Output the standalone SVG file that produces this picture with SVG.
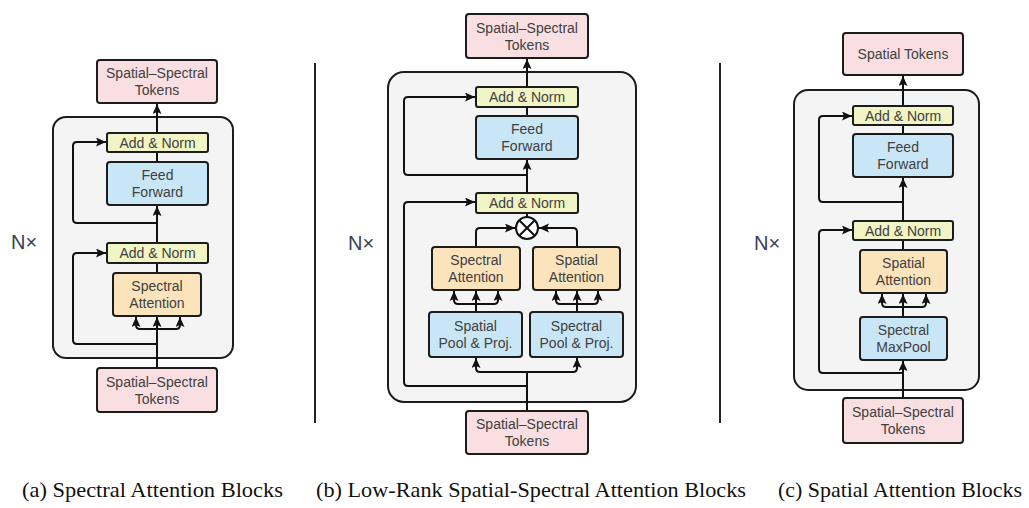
<svg xmlns="http://www.w3.org/2000/svg" width="1029" height="508" viewBox="0 0 1029 508">
<defs>
<marker id="ah" markerUnits="userSpaceOnUse" markerWidth="11" markerHeight="10" refX="10" refY="4.5" orient="auto">
<path d="M0,0 L10,4.5 L0,9 L2,4.5 z" fill="#111"/>
</marker>
<style>
.box{stroke:#1c1c1c;stroke-width:2}
.tok{fill:#f9dfe1}
.an{fill:#f1f4c5}
.ff{fill:#c9e6f6}
.at{fill:#fbe3bc}
.cont{fill:#f4f4f4;stroke:#1c1c1c;stroke-width:2}
.lb{font-family:"Liberation Sans",Arial,sans-serif;font-size:14px;fill:#404040;text-anchor:middle}
.nx{font-family:"Liberation Sans",Arial,sans-serif;font-size:20px;fill:#3a3d55}
.cap{font-family:"Liberation Serif","Times New Roman",serif;font-size:21px;fill:#111}
.ln{fill:none;stroke:#111;stroke-width:2;stroke-linejoin:round}
.ar{fill:none;stroke:#111;stroke-width:2;stroke-linejoin:round;marker-end:url(#ah)}
.sep{stroke:#222;stroke-width:2}
</style>
</defs>
<rect width="1029" height="508" fill="#ffffff"/>

<!-- containers -->
<g id="container-a"><rect class="cont" x="53" y="117" width="180" height="241" rx="13"/></g>
<g id="container-b"><rect class="cont" x="388" y="72" width="248" height="330" rx="16"/></g>
<g id="container-c"><rect class="cont" x="794" y="90" width="185" height="300" rx="14"/></g>

<g id="separators">
<line class="sep" x1="315" y1="63" x2="315" y2="423"/>
<line class="sep" x1="720" y1="63" x2="720" y2="423"/>
</g>

<!-- connectors -->
<g id="connectors">
<!-- panel a -->
<path class="ar" d="M157,368 V317"/>
<path class="ar" d="M157,329 H140 Q136,329 136,325 V317"/>
<path class="ar" d="M157,329 H176 Q180,329 180,325 V317"/>
<path class="ar" d="M157,344 H77 Q73,344 73,340 V257 Q73,253 77,253 H106"/>
<path class="ln" d="M157,273 V263"/>
<path class="ar" d="M157,243 V206"/>
<path class="ar" d="M157,223 H77 Q73,223 73,219 V146 Q73,142 77,142 H106"/>
<path class="ln" d="M157,162 V152"/>
<path class="ar" d="M157,133 V104"/>
<!-- panel b -->
<path class="ln" d="M527,411 V372"/>
<path class="ar" d="M527,372 H480 Q476,372 476,368 V358"/>
<path class="ar" d="M527,372 H573 Q577,372 577,368 V358"/>
<path class="ar" d="M527,386 H408 Q404,386 404,382 V206 Q404,202 408,202 H475"/>
<path class="ar" d="M476,312 V291"/>
<path class="ar" d="M476,304 H458 Q454,304 454,300 V291"/>
<path class="ar" d="M476,304 H494 Q498,304 498,300 V291"/>
<path class="ar" d="M577,312 V291"/>
<path class="ar" d="M577,304 H560 Q556,304 556,300 V291"/>
<path class="ar" d="M577,304 H594 Q598,304 598,300 V291"/>
<path class="ar" d="M476,247 V232 Q476,228 480,228 H515"/>
<path class="ar" d="M577,247 V232 Q577,228 573,228 H539"/>
<path class="ln" d="M527,217 V213"/>
<path class="ar" d="M527,193 V160"/>
<path class="ar" d="M527,175 H408 Q404,175 404,171 V101 Q404,97 408,97 H475"/>
<path class="ln" d="M527,116 V107"/>
<path class="ar" d="M527,87 V59"/>
<!-- panel c -->
<path class="ar" d="M903,398 V361"/>
<path class="ar" d="M903,373 H823 Q819,373 819,369 V234 Q819,230 823,230 H852"/>
<path class="ar" d="M903,317 V294"/>
<path class="ar" d="M903,307 H886 Q882,307 882,303 V294"/>
<path class="ar" d="M903,307 H922 Q926,307 926,303 V294"/>
<path class="ln" d="M903,250 V240"/>
<path class="ar" d="M903,221 V178"/>
<path class="ar" d="M903,202 H823 Q819,202 819,198 V120 Q819,116 823,116 H852"/>
<path class="ln" d="M903,134 V125"/>
<path class="ar" d="M903,106 V76"/>
</g>

<!-- panel a nodes -->
<g id="a-out"><rect class="box tok" x="97" y="60" width="120" height="43" rx="3"/><text class="lb" x="157" y="78">Spatial–Spectral</text><text class="lb" x="157" y="95">Tokens</text></g>
<g id="a-addnorm2"><rect class="box an" x="107" y="133" width="101" height="19" rx="2"/><text class="lb" x="157.5" y="147.5">Add &amp; Norm</text></g>
<g id="a-ff"><rect class="box ff" x="107" y="162" width="101" height="43" rx="3"/><text class="lb" x="157.5" y="180">Feed</text><text class="lb" x="157.5" y="197">Forward</text></g>
<g id="a-addnorm1"><rect class="box an" x="107" y="243" width="101" height="20" rx="2"/><text class="lb" x="157.5" y="258">Add &amp; Norm</text></g>
<g id="a-attn"><rect class="box at" x="113" y="273" width="88" height="43" rx="3"/><text class="lb" x="157" y="291">Spectral</text><text class="lb" x="157" y="308">Attention</text></g>
<g id="a-in"><rect class="box tok" x="97" y="368" width="120" height="44" rx="3"/><text class="lb" x="157" y="387">Spatial–Spectral</text><text class="lb" x="157" y="404">Tokens</text></g>
<g id="a-nx"><text class="nx" x="11" y="249">N×</text></g>

<!-- panel b nodes -->
<g id="b-out"><rect class="box tok" x="466" y="14" width="122" height="44" rx="3"/><text class="lb" x="527" y="33">Spatial–Spectral</text><text class="lb" x="527" y="50">Tokens</text></g>
<g id="b-addnorm2"><rect class="box an" x="476" y="87" width="102" height="20" rx="2"/><text class="lb" x="527" y="102">Add &amp; Norm</text></g>
<g id="b-ff"><rect class="box ff" x="476" y="116" width="102" height="43" rx="3"/><text class="lb" x="527" y="134">Feed</text><text class="lb" x="527" y="151">Forward</text></g>
<g id="b-addnorm1"><rect class="box an" x="476" y="193" width="102" height="20" rx="2"/><text class="lb" x="527" y="208">Add &amp; Norm</text></g>
<g id="b-mul"><circle cx="527" cy="228" r="11" fill="#ffffff" stroke="#111" stroke-width="2"/><path d="M519.2,220.2 L534.8,235.8 M534.8,220.2 L519.2,235.8" stroke="#111" stroke-width="2"/></g>
<g id="b-specattn"><rect class="box at" x="432" y="247" width="88" height="43" rx="3"/><text class="lb" x="476" y="265">Spectral</text><text class="lb" x="476" y="282">Attention</text></g>
<g id="b-spatattn"><rect class="box at" x="533" y="247" width="87" height="43" rx="3"/><text class="lb" x="576.5" y="265">Spatial</text><text class="lb" x="576.5" y="282">Attention</text></g>
<g id="b-spatpool"><rect class="box ff" x="429" y="312" width="93" height="45" rx="3"/><text class="lb" x="475.5" y="331">Spatial</text><text class="lb" x="475.5" y="348">Pool &amp; Proj.</text></g>
<g id="b-specpool"><rect class="box ff" x="530" y="312" width="93" height="45" rx="3"/><text class="lb" x="576.5" y="331">Spectral</text><text class="lb" x="576.5" y="348">Pool &amp; Proj.</text></g>
<g id="b-in"><rect class="box tok" x="466" y="411" width="122" height="43" rx="3"/><text class="lb" x="527" y="429">Spatial–Spectral</text><text class="lb" x="527" y="446">Tokens</text></g>
<g id="b-nx"><text class="nx" x="348" y="250">N×</text></g>

<!-- panel c nodes -->
<g id="c-out"><rect class="box tok" x="843" y="33" width="120" height="42" rx="3"/><text class="lb" x="903" y="59">Spatial Tokens</text></g>
<g id="c-addnorm2"><rect class="box an" x="853" y="106" width="100" height="19" rx="2"/><text class="lb" x="903" y="120.5">Add &amp; Norm</text></g>
<g id="c-ff"><rect class="box ff" x="853" y="134" width="100" height="43" rx="3"/><text class="lb" x="903" y="152">Feed</text><text class="lb" x="903" y="169">Forward</text></g>
<g id="c-addnorm1"><rect class="box an" x="853" y="221" width="100" height="19" rx="2"/><text class="lb" x="903" y="235.5">Add &amp; Norm</text></g>
<g id="c-attn"><rect class="box at" x="860" y="250" width="87" height="43" rx="3"/><text class="lb" x="903.5" y="268">Spatial</text><text class="lb" x="903.5" y="285">Attention</text></g>
<g id="c-pool"><rect class="box ff" x="860" y="317" width="87" height="43" rx="3"/><text class="lb" x="903.5" y="335">Spectral</text><text class="lb" x="903.5" y="352">MaxPool</text></g>
<g id="c-in"><rect class="box tok" x="843" y="398" width="120" height="45" rx="3"/><text class="lb" x="903" y="417">Spatial–Spectral</text><text class="lb" x="903" y="434">Tokens</text></g>
<g id="c-nx"><text class="nx" x="754" y="250">N×</text></g>

<!-- captions -->
<g id="captions">
<text class="cap" x="22" y="497" textLength="261" lengthAdjust="spacingAndGlyphs">(a) Spectral Attention Blocks</text>
<text class="cap" x="316" y="497" textLength="430" lengthAdjust="spacingAndGlyphs">(b) Low-Rank Spatial-Spectral Attention Blocks</text>
<text class="cap" x="778" y="497" textLength="244" lengthAdjust="spacingAndGlyphs">(c) Spatial Attention Blocks</text>
</g>
</svg>
